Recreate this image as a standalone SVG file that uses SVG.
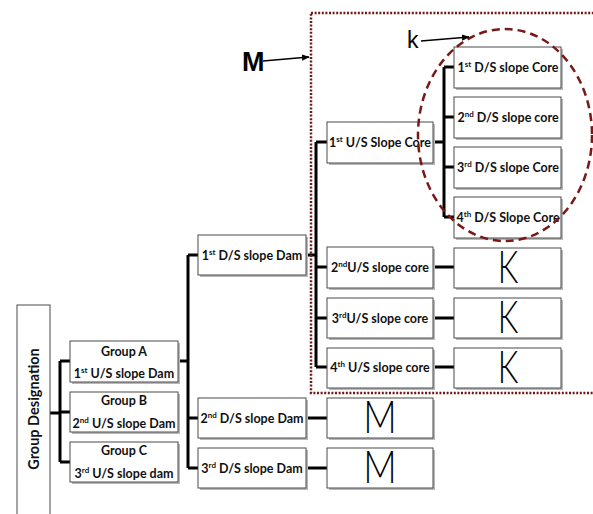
<svg xmlns="http://www.w3.org/2000/svg" width="593" height="514" viewBox="0 0 593 514">
<defs>
<style>
.box{fill:#fff;stroke:#4a4a4a;stroke-width:1}
.sh{fill:#b8b8b8}
.t{font-family:Lato,"Open Sans",sans-serif;font-weight:bold;font-size:12.5px;fill:#111;text-anchor:middle}
.sup{font-size:8px}
.big{font-family:Lato,"Liberation Sans",sans-serif;font-size:45px;fill:#000;text-anchor:middle;font-weight:300}
.conn{stroke:#000;stroke-width:3;fill:none}
.lbl{font-family:"Liberation Sans",Arial,sans-serif;fill:#000}
</style>
<marker id="ah" viewBox="0 0 10 10" refX="9" refY="5" markerWidth="6" markerHeight="6" orient="auto"><path d="M0,1 L10,5 L0,9 z" fill="#000"/></marker>
</defs>
<rect width="593" height="514" fill="#fff"/>

<g id="connectors" class="conn">
<path d="M50,413 H60 M60,361 V462 M60,361 H70 M60,412 H70 M60,462 H70"/>
<path d="M178,361 H188 M188,255 V468 M188,255 H198 M188,418 H198 M188,468 H198"/>
<path d="M306,418 H327 M306,468 H327"/>
<path d="M306,255 H316 M316,142 V367 M316,142 H327 M316,267 H327 M316,318 H327 M316,367 H327"/>
<path d="M433,142 H444 M444,67 V217 M444,67 H454 M444,117 H454 M444,167 H454 M444,217 H454"/>
<path d="M433,267 H454 M433,318 H454 M433,367 H454"/>
</g>

<g id="group-designation">
<rect class="box" x="17" y="305" width="33" height="220"/>
<text class="t" style="font-size:14.5px" transform="rotate(-90 39 409)" x="39" y="409">Group Designation</text>
</g>

<g id="groupA"><rect class="sh" x="72" y="343" width="108" height="41"/><rect class="box" x="70" y="341" width="108" height="41"/>
<text class="t" x="124" y="356">Group A</text><text class="t" x="124" y="378">1<tspan class="sup" dy="-5">st</tspan><tspan dy="5"> U/S slope Dam</tspan></text></g>
<g id="groupB"><rect class="sh" x="72" y="394" width="108" height="40"/><rect class="box" x="70" y="392" width="108" height="40"/>
<text class="t" x="124" y="405">Group B</text><text class="t" x="124" y="428">2<tspan class="sup" dy="-5">nd</tspan><tspan dy="5"> U/S slope Dam</tspan></text></g>
<g id="groupC"><rect class="sh" x="72" y="444" width="108" height="40"/><rect class="box" x="70" y="442" width="108" height="40"/>
<text class="t" x="124" y="455">Group C</text><text class="t" x="124" y="478">3<tspan class="sup" dy="-5">rd</tspan><tspan dy="5"> U/S slope dam</tspan></text></g>

<g id="ds1dam"><rect class="sh" x="200" y="237" width="108" height="40"/><rect class="box" x="198" y="235" width="108" height="40"/>
<text class="t" x="252" y="260">1<tspan class="sup" dy="-5">st</tspan><tspan dy="5"> D/S slope Dam</tspan></text></g>
<g id="ds2dam"><rect class="sh" x="200" y="400" width="108" height="40"/><rect class="box" x="198" y="398" width="108" height="40"/>
<text class="t" x="252" y="423">2<tspan class="sup" dy="-5">nd</tspan><tspan dy="5"> D/S slope Dam</tspan></text></g>
<g id="ds3dam"><rect class="sh" x="200" y="450" width="108" height="40"/><rect class="box" x="198" y="448" width="108" height="40"/>
<text class="t" x="252" y="473">3<tspan class="sup" dy="-5">rd</tspan><tspan dy="5"> D/S slope Dam</tspan></text></g>

<g id="m1"><rect class="sh" x="329" y="400" width="106" height="40"/><rect class="box" x="327" y="398" width="106" height="40"/><text class="big" transform="translate(380 0) scale(0.82 1)" x="0" y="433">M</text></g>
<g id="m2"><rect class="sh" x="329" y="450" width="106" height="40"/><rect class="box" x="327" y="448" width="106" height="40"/><text class="big" transform="translate(380 0) scale(0.82 1)" x="0" y="483">M</text></g>

<g id="us1"><rect class="sh" x="329" y="124" width="106" height="41"/><rect class="box" x="327" y="122" width="106" height="41"/>
<text class="t" x="380" y="147">1<tspan class="sup" dy="-5">st</tspan><tspan dy="5"> U/S Slope Core</tspan></text></g>
<g id="us2"><rect class="sh" x="329" y="249" width="106" height="41"/><rect class="box" x="327" y="247" width="106" height="41"/>
<text class="t" x="380" y="272">2<tspan class="sup" dy="-5">nd</tspan><tspan dy="5">U/S slope core</tspan></text></g>
<g id="us3"><rect class="sh" x="329" y="300" width="106" height="40"/><rect class="box" x="327" y="298" width="106" height="40"/>
<text class="t" x="380" y="323">3<tspan class="sup" dy="-5">rd</tspan><tspan dy="5">U/S slope core</tspan></text></g>
<g id="us4"><rect class="sh" x="329" y="350" width="106" height="40"/><rect class="box" x="327" y="348" width="106" height="40"/>
<text class="t" x="380" y="372">4<tspan class="sup" dy="-5">th</tspan><tspan dy="5"> U/S slope core</tspan></text></g>

<g id="dsc1"><rect class="sh" x="456" y="49" width="107" height="41"/><rect class="box" x="454" y="47" width="107" height="41"/>
<text class="t" x="508" y="72">1<tspan class="sup" dy="-5">st</tspan><tspan dy="5"> D/S slope Core</tspan></text></g>
<g id="dsc2"><rect class="sh" x="456" y="99" width="107" height="41"/><rect class="box" x="454" y="97" width="107" height="41"/>
<text class="t" x="508" y="122">2<tspan class="sup" dy="-5">nd</tspan><tspan dy="5"> D/S slope core</tspan></text></g>
<g id="dsc3"><rect class="sh" x="456" y="149" width="107" height="41"/><rect class="box" x="454" y="147" width="107" height="41"/>
<text class="t" x="508" y="172">3<tspan class="sup" dy="-5">rd</tspan><tspan dy="5"> D/S slope Core</tspan></text></g>
<g id="dsc4"><rect class="sh" x="456" y="199" width="107" height="41"/><rect class="box" x="454" y="197" width="107" height="41"/>
<text class="t" x="508" y="222">4<tspan class="sup" dy="-5">th</tspan><tspan dy="5"> D/S Slope Core</tspan></text></g>

<g id="k1"><rect class="sh" x="456" y="250" width="107" height="40"/><rect class="box" x="454" y="248" width="107" height="40"/><text class="big" transform="translate(508 0) scale(0.72 1)" x="0" y="283">K</text></g>
<g id="k2"><rect class="sh" x="456" y="300" width="107" height="40"/><rect class="box" x="454" y="298" width="107" height="40"/><text class="big" transform="translate(508 0) scale(0.72 1)" x="0" y="333">K</text></g>
<g id="k3"><rect class="sh" x="456" y="350" width="107" height="40"/><rect class="box" x="454" y="348" width="107" height="40"/><text class="big" transform="translate(508 0) scale(0.72 1)" x="0" y="383">K</text></g>

<g id="region-M">
<rect x="311" y="13" width="300" height="380" fill="none" stroke="#6e1a1a" stroke-width="2.5" stroke-dasharray="2 1.6"/>
<text class="lbl" x="242" y="71" font-size="27" font-weight="bold">M</text>
<line x1="263" y1="61" x2="309" y2="57" stroke="#000" stroke-width="1.3" marker-end="url(#ah)"/>
</g>
<g id="region-k">
<ellipse cx="505" cy="135" rx="87" ry="106" fill="none" stroke="#7a1818" stroke-width="2.5" stroke-dasharray="8 5"/>
<text class="lbl" x="407" y="48" font-size="23">k</text>
<line x1="421" y1="41" x2="469" y2="37" stroke="#000" stroke-width="1.3" marker-end="url(#ah)"/>
</g>
</svg>
